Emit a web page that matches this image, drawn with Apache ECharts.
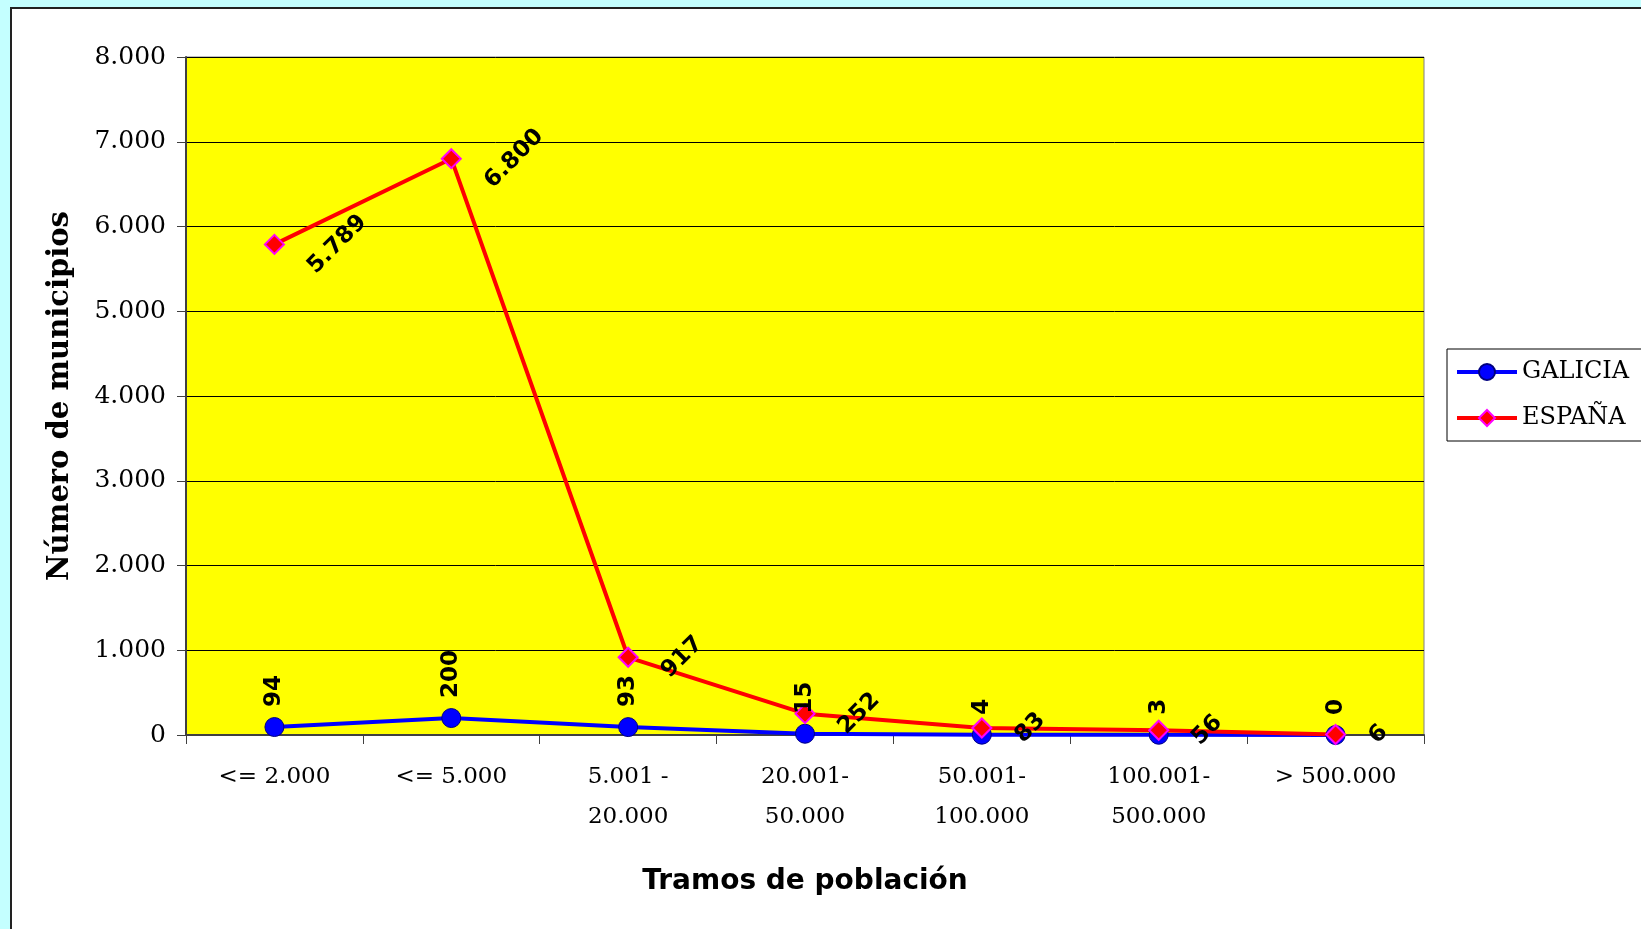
<!DOCTYPE html>
<html>
<head>
<meta charset="utf-8">
<script src="https://cdn.jsdelivr.net/npm/echarts@6/dist/echarts.min.js"></script>
<style>
  html, body { margin: 0; padding: 0; width: 1641px; height: 929px; overflow: hidden; background: #c4ffff; }
  #frame { position: absolute; left: 10px; top: 7px; width: 1700px; height: 1000px; background: #ffffff; border-left: 2px solid #222; border-top: 2px solid #222; }
  #chart { position: absolute; left: 0; top: 0; width: 1641px; height: 929px; }
</style>
</head>
<body>
<div id="frame"></div>
<div id="chart"></div>
<script>
// ---- data ----
const categories = ['<= 2.000', '<= 5.000', '5.001 -\n20.000', '20.001-\n50.000', '50.001-\n100.000', '100.001-\n500.000', '> 500.000'];
const seriesNames = ['GALICIA', 'ESPAÑA'];
const galicia = [94, 200, 93, 15, 4, 3, 0];
const espana = [5789, 6800, 917, 252, 83, 56, 6];
const yMin = 0, yMax = 8000, yStep = 1000;

// ---- helpers ----
function fmt(v) { return String(v).replace(/\B(?=(\d{3})+(?!\d))/g, '.'); }

const labelSize = 23;
const labelFamily = '"DejaVu Sans"';
const measureCtx = document.createElement('canvas').getContext('2d');
measureCtx.font = 'bold ' + labelSize + 'px ' + labelFamily;
const symSize = 19;
const boxGap = 28; // gap from point centre to rotated label box
const espData = espana.map(function (v) {
  const L = measureCtx.measureText(fmt(v)).width;
  return { value: v, label: { distance: boxGap - symSize / 2 + (L + labelSize) / (2 * Math.SQRT2) } };
});

const chart = echarts.init(document.getElementById('chart'), null, { renderer: 'canvas' });
const option = {
  animation: false,
  backgroundColor: 'transparent',
  grid: { left: 186, top: 57, right: 217, bottom: 194, show: true, backgroundColor: '#ffff00', borderColor: '#808080', borderWidth: 1 },
  legend: {
    data: seriesNames, orient: 'vertical', left: 1447, top: 349,
    padding: [11, 14, 11, 8], itemGap: 22, itemWidth: 60, itemHeight: 20,
    borderColor: '#000', borderWidth: 1, backgroundColor: '#fff', borderRadius: 0,
    lineStyle: { width: 4 },
    textStyle: { fontFamily: '"DejaVu Serif"', fontSize: 24, color: '#000', lineHeight: 24 }
  },
  xAxis: {
    type: 'category', data: categories, boundaryGap: true,
    axisLine: { lineStyle: { color: '#404040', width: 2 } },
    axisTick: { show: true, length: 9, lineStyle: { color: '#404040', width: 1 } },
    axisLabel: { interval: 0, fontFamily: '"DejaVu Serif"', fontSize: 23, color: '#000', margin: 22, lineHeight: 40 },
    splitLine: { show: false },
    name: 'Tramos de población', nameLocation: 'middle', nameGap: 133,
    nameTextStyle: { fontFamily: '"DejaVu Sans"', fontWeight: 'bold', fontSize: 28, color: '#000' }
  },
  yAxis: {
    type: 'value', min: yMin, max: yMax, interval: yStep,
    axisLine: { show: true, lineStyle: { color: '#404040', width: 2 } },
    axisTick: { show: true, length: 9, lineStyle: { color: '#404040', width: 1 } },
    axisLabel: { formatter: fmt, fontFamily: '"DejaVu Serif"', fontSize: 25, color: '#000', margin: 20 },
    splitLine: { lineStyle: { color: '#000', width: 1 } },
    name: 'Número de municipios', nameLocation: 'middle', nameGap: 111, nameRotate: 90,
    nameTextStyle: { fontFamily: '"DejaVu Serif"', fontWeight: 'bold', fontSize: 29, color: '#000' }
  },
  series: [
    {
      name: seriesNames[0], type: 'line', data: galicia,
      symbol: 'circle', symbolSize: symSize,
      lineStyle: { color: '#0000ff', width: 4 },
      itemStyle: { color: '#0000ff', borderColor: '#000080', borderWidth: 1 },
      label: {
        show: true, position: 'top', distance: 10, rotate: 90, align: 'left', verticalAlign: 'middle',
        fontFamily: labelFamily, fontWeight: 'bold', fontSize: labelSize, color: '#000',
        formatter: function (p) { return fmt(p.value); }
      }
    },
    {
      name: seriesNames[1], type: 'line', data: espData,
      symbol: 'diamond', symbolSize: symSize,
      lineStyle: { color: '#ff0000', width: 4 },
      itemStyle: { color: '#ff0000', borderColor: '#ff00ff', borderWidth: 2 },
      label: {
        show: true, position: 'right', rotate: 45, align: 'center', verticalAlign: 'middle',
        fontFamily: labelFamily, fontWeight: 'bold', fontSize: labelSize, color: '#000',
        formatter: function (p) { return fmt(p.value); }
      }
    }
  ]
};
chart.setOption(option);
</script>
</body>
</html>
